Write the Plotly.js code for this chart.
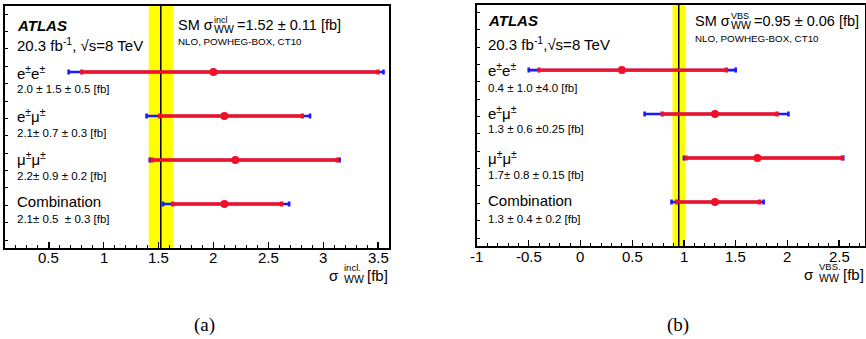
<!DOCTYPE html>
<html>
<head>
<meta charset="utf-8">
<script src="https://cdn.plot.ly/plotly-3.0.1.min.js"></script>
<style>html,body{margin:0;padding:0;background:#fff;}</style>
</head>
<body>
<div id="chart" style="width:866px;height:339px;"></div>
<script>
// ---------- data ----------
const channels = ['e<sup>±</sup>e<sup>±</sup>', 'e<sup>±</sup>μ<sup>±</sup>', 'μ<sup>±</sup>μ<sup>±</sup>', 'Combination'];

// (a) inclusive
const inclCentral = [2.0, 2.1, 2.2, 2.1];
const inclStatLo  = [0.80, 1.51, 1.44, 1.63];
const inclStatHi  = [3.50, 2.81, 3.13, 2.62];
const inclTotLo   = [0.68, 1.39, 1.42, 1.54];
const inclTotHi   = [3.55, 2.88, 3.15, 2.69];
const inclText    = ['2.0 ± 1.5 ± 0.5 [fb]', '2.1± 0.7 ± 0.3 [fb]', '2.2± 0.9 ± 0.2 [fb]', '2.1± 0.5  ± 0.3 [fb]'];
const inclSM = 1.52, inclSMerr = 0.11;

// (b) VBS
const vbsCentral = [0.40, 1.30, 1.71, 1.30];
const vbsStatLo  = [-0.40, 0.79, 1.02, 0.93];
const vbsStatHi  = [1.41, 1.90, 2.53, 1.73];
const vbsTotLo   = [-0.50, 0.62, 1.00, 0.88];
const vbsTotHi   = [1.50, 2.01, 2.54, 1.77];
const vbsText    = ['0.4 ± 1.0 ±4.0 [fb]', '1.3 ± 0.6 ±0.25 [fb]', '1.7± 0.8 ± 0.15 [fb]', '1.3 ± 0.4 ± 0.2 [fb]'];
const vbsSM = 0.95, vbsSMerr = 0.06;

const inclTicks = [0.5, 1, 1.5, 2, 2.5, 3, 3.5];
const inclTickText = ['0.5', '1', '1.5', '2', '2.5', '3', '3.5'];
const vbsTicks = [-1, -0.5, 0, 0.5, 1, 1.5, 2, 2.5];
const vbsTickText = ['-1', '-0.5', '0', '0.5', '1', '1.5', '2', '2.5'];

// ---------- styling ----------
const W = 866, H = 339;
const RED = '#f0102a', BLUE = '#1a1aff';
const FONT = 'Liberation Sans';
const SERIF = 'Liberation Serif';
const px = v => v / W;
const py = v => 1 - v / H;

const cv = document.createElement('canvas').getContext('2d');
function tw(text, size) { cv.font = size + 'px "Liberation Sans"'; return cv.measureText(text).width; }

const rows = channels.map((c, i) => channels.length - i);

function traces(central, sLo, sHi, tLo, tHi, xa, ya) {
  const tot = {
    type: 'scatter', mode: 'markers', x: central, y: rows, xaxis: xa, yaxis: ya,
    marker: {size: 1, color: BLUE},
    error_x: {type: 'data', symmetric: false,
      array: central.map((c, i) => tHi[i] - c),
      arrayminus: central.map((c, i) => c - tLo[i]),
      color: BLUE, thickness: 2.6, width: 2.5},
    hoverinfo: 'skip', showlegend: false
  };
  const stat = {
    type: 'scatter', mode: 'markers', x: central, y: rows, xaxis: xa, yaxis: ya,
    marker: {size: 8, color: RED},
    error_x: {type: 'data', symmetric: false,
      array: central.map((c, i) => sHi[i] - c),
      arrayminus: central.map((c, i) => c - sLo[i]),
      color: RED, thickness: 3.4, width: 2.5},
    hoverinfo: 'skip', showlegend: false
  };
  return [tot, stat];
}

const data = [
  ...traces(inclCentral, inclStatLo, inclStatHi, inclTotLo, inclTotHi, 'x', 'y'),
  ...traces(vbsCentral, vbsStatLo, vbsStatHi, vbsTotLo, vbsTotHi, 'x2', 'y2')
];

function xaxisDef(domain, range, tv) {
  return {
    domain: domain, range: range, tickvals: tv, showticklabels: false,
    ticks: 'inside', ticklen: 6, tickwidth: 1.3, tickcolor: '#000',
    minor: {dtick: 0.1, tick0: 0, ticks: 'inside', ticklen: 3, tickwidth: 1, tickcolor: '#000'},
    showline: true, linecolor: '#000', linewidth: 1.6, mirror: true,
    showgrid: false, zeroline: false, fixedrange: true
  };
}
function yaxisDef(domain, range, anchor) {
  return {
    domain: domain, range: range, anchor: anchor,
    showticklabels: false, ticks: 'inside', ticklen: 3, tickwidth: 1, tickcolor: '#000',
    tick0: 0.18, dtick: 0.395,
    showline: true, linecolor: '#000', linewidth: 1.6, mirror: true,
    showgrid: false, zeroline: false, fixedrange: true
  };
}

const ann = [];
function T(text, x, y, size, opts) {
  ann.push(Object.assign({
    text: text, xref: 'paper', yref: 'paper', x: px(x), y: py(y),
    xanchor: 'left', yanchor: 'middle', showarrow: false, borderpad: 0,
    font: {family: FONT, size: size, color: '#000'}
  }, opts || {}));
}
// tick labels on data axis
function ticksAnn(vals, texts, xref, y) {
  vals.forEach((v, i) => ann.push({
    text: texts[i], xref: xref, yref: 'paper', x: v, y: py(y),
    xanchor: 'center', yanchor: 'middle', showarrow: false, borderpad: 0,
    font: {family: FONT, size: 15, color: '#000'}
  }));
}
// "SM σ^sup_WW=..." block
function smBlock(x, y, sup, rest) {
  const s = 14.5;
  T('SM σ', x, y, s);
  const x1 = x + tw('SM σ', s) + 1;
  T(sup, x1, y - 5, 9);
  T('WW', x1, y + 4, 10.5);
  const x2 = x1 + Math.max(tw('WW', 10.5), tw(sup, 9)) + 3;
  T(rest, x2, y, s);
}
// axis title "σ ^sup _WW [fb]" right-aligned
function axTitle(xr, y, sup) {
  const wfb = tw('[fb]', 15);
  T('[fb]', xr, y, 15, {xanchor: 'right'});
  const xs = xr - wfb - 5 - Math.max(tw('WW', 10.5), tw(sup, 9.5));
  T(sup, xs, y - 8, 9.5);
  T('WW', xs, y + 4, 10.5);
  T('σ', xs - 3, y, 15, {xanchor: 'right'});
}

// panel (a)
T('<b><i>ATLAS</i></b>', 16, 25, 15);
T('20.3 fb<sup>-1</sup>, √s=8 TeV', 16, 45, 15);
smBlock(177, 25, 'incl', '=1.52 ± 0.11 [fb]');
T('NLO, POWHEG-BOX, CT10', 177, 41, 9.8);
const inclLabelY = [72, 115, 158, 201], inclValY = [89, 133, 176, 219];
channels.forEach((c, i) => { T(c, 16, inclLabelY[i], 15); T(inclText[i], 16, inclValY[i], 11.5); });
ticksAnn(inclTicks, inclTickText, 'x', 257);
axTitle(389, 275, 'incl.');
T('(a)', 204, 325, 19, {xanchor: 'center', font: {family: SERIF, size: 19, color: '#000'}});

// panel (b)
T('<b><i>ATLAS</i></b>', 487, 21, 15);
T('20.3 fb<sup>-1</sup>,√s=8 TeV', 487, 43, 15);
smBlock(694, 21, 'VBS', '=0.95 ± 0.06 [fb]');
T('NLO, POWHEG-BOX, CT10', 694, 39, 9.8);
const vbsLabelY = [69, 113, 157, 200], vbsValY = [88, 129, 175, 219];
channels.forEach((c, i) => { T(c, 487, vbsLabelY[i], 15); T(vbsText[i], 487, vbsValY[i], 11.5); });
ticksAnn(vbsTicks, vbsTickText, 'x2', 256);
axTitle(865, 274, 'VBS.');
T('(b)', 678, 325, 19, {xanchor: 'center', font: {family: SERIF, size: 19, color: '#000'}});

const shapes = [
  {type: 'rect', xref: 'x', yref: 'y domain', x0: inclSM - inclSMerr, x1: inclSM + inclSMerr, y0: 0, y1: 1,
   fillcolor: '#ffff00', line: {width: 0}, layer: 'below'},
  {type: 'line', xref: 'x', yref: 'y domain', x0: inclSM, x1: inclSM, y0: 0, y1: 1,
   line: {color: '#000', width: 1.5}, layer: 'below'},
  {type: 'rect', xref: 'x2', yref: 'y2 domain', x0: vbsSM - vbsSMerr, x1: vbsSM + vbsSMerr, y0: 0, y1: 1,
   fillcolor: '#ffff00', line: {width: 0}, layer: 'below'},
  {type: 'line', xref: 'x2', yref: 'y2 domain', x0: vbsSM, x1: vbsSM, y0: 0, y1: 1,
   line: {color: '#000', width: 1.5}, layer: 'below'}
];

const layout = {
  width: W, height: H, margin: {l: 0, r: 0, t: 0, b: 0},
  paper_bgcolor: '#fff', plot_bgcolor: 'rgba(0,0,0,0)',
  font: {family: FONT, color: '#000'},
  showlegend: false,
  xaxis: Object.assign(xaxisDef([px(5), px(389)], [0.1, 3.6], inclTicks), {anchor: 'y'}),
  yaxis: yaxisDef([py(248), py(6)], [0, 5.5], 'x'),
  xaxis2: Object.assign(xaxisDef([px(477), px(865)], [-1, 2.75], vbsTicks), {anchor: 'y2'}),
  yaxis2: yaxisDef([py(246), py(5)], [0, 5.48], 'x2'),
  annotations: ann,
  shapes: shapes
};

Plotly.newPlot('chart', data, layout, {staticPlot: true, displayModeBar: false});
</script>
</body>
</html>
